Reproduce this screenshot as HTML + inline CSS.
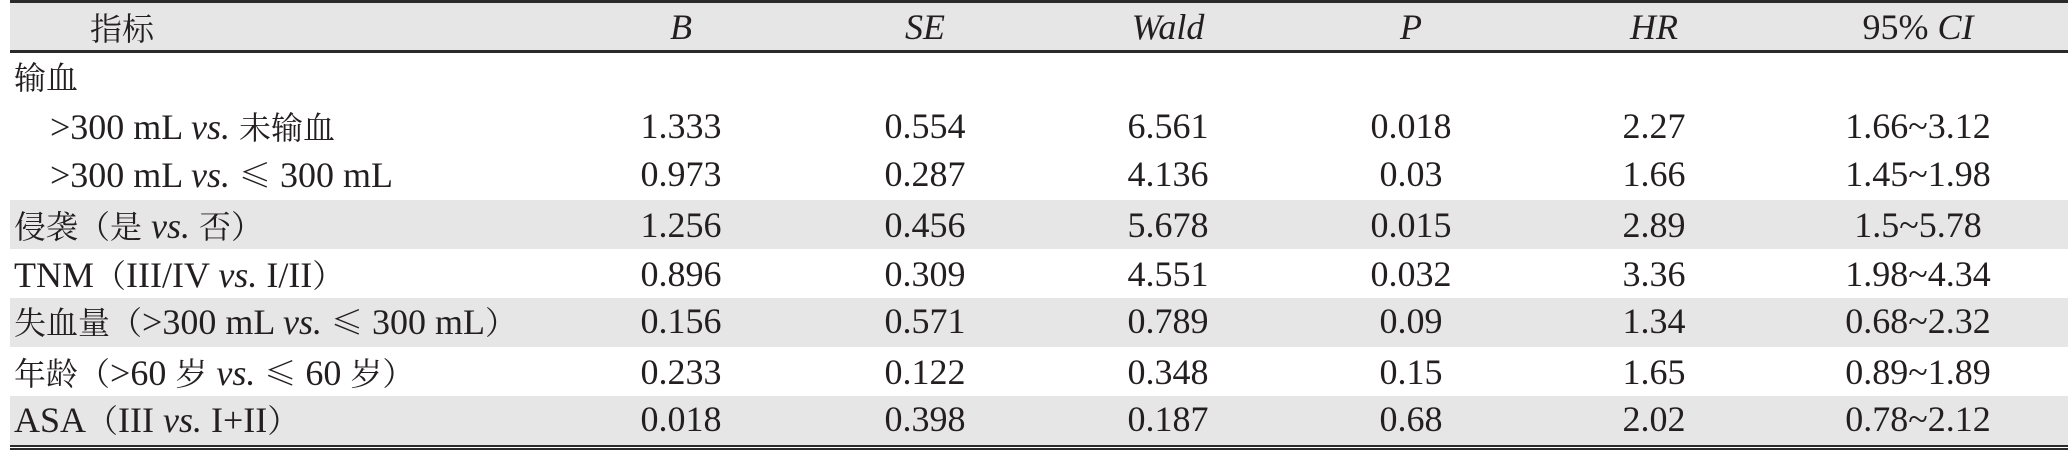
<!DOCTYPE html>
<html><head><meta charset="utf-8"><style>
body{margin:0;width:2071px;height:455px;background:#fff;overflow:hidden;position:relative;font-family:"Liberation Serif","Noto Serif CJK SC",serif;color:#231f20}
.band{position:absolute;left:10px;width:2058px;background:#e6e6e6}
.rule{position:absolute;left:10px;width:2058px;background:#2a2a2a}
.c{position:absolute;font-size:36px;line-height:40px;white-space:nowrap;transform:translateX(-50%)}
.l{position:absolute;font-size:36px;line-height:40px;white-space:nowrap}
i{font-style:italic}
.z{font-family:"Noto Serif CJK SC",serif;font-size:32px}
</style></head><body>
<div class="band" style="top:3px;height:48px"></div>
<div class="band" style="top:200px;height:49px"></div>
<div class="band" style="top:298px;height:49px"></div>
<div class="band" style="top:396px;height:49px"></div>
<div class="rule" style="top:0;height:3px"></div>
<div class="rule" style="top:50px;height:3px"></div>
<div class="rule" style="top:445px;height:2px"></div>
<div class="rule" style="top:448px;height:2px"></div>

<div class="l" style="left:90px;top:7px"><span class="z">指标</span></div>
<div class="c" style="left:681px;top:7px"><i>B</i></div>
<div class="c" style="left:925px;top:7px"><i>SE</i></div>
<div class="c" style="left:1168px;top:7px"><i>Wald</i></div>
<div class="c" style="left:1411px;top:7px"><i>P</i></div>
<div class="c" style="left:1654px;top:7px"><i>HR</i></div>
<div class="c" style="left:1918px;top:7px">95% <i>CI</i></div>

<script>
const labels=['<span class="z">输血</span>','>300 mL <i>vs.</i> <span class="z">未输血</span>','>300 mL <i>vs.</i> <span class="z">≤</span> 300 mL','<span class="z">侵袭（是</span> <i>vs.</i> <span class="z">否）</span>','TNM<span class="z">（</span>III/IV <i>vs.</i> I/II<span class="z">）</span>','<span class="z">失血量（</span>>300 mL <i>vs.</i> <span class="z">≤</span> 300 mL<span class="z">）</span>','<span class="z">年龄（</span>>60 <span class="z">岁</span> <i>vs.</i> <span class="z">≤</span> 60 <span class="z">岁）</span>','ASA<span class="z">（</span>III <i>vs.</i> I+II<span class="z">）</span>'];
const indent=[0,1,1,0,0,0,0,0];
const colB=["","1.333","0.973","1.256","0.896","0.156","0.233","0.018"];
const colSE=["","0.554","0.287","0.456","0.309","0.571","0.122","0.398"];
const colWald=["","6.561","4.136","5.678","4.551","0.789","0.348","0.187"];
const colP=["","0.018","0.03","0.015","0.032","0.09","0.15","0.68"];
const colHR=["","2.27","1.66","2.89","3.36","1.34","1.65","2.02"];
const colCI=["","1.66~3.12","1.45~1.98","1.5~5.78","1.98~4.34","0.68~2.32","0.89~1.89","0.78~2.12"];
const cols=[[colB,681,"b"],[colSE,925,"se"],[colWald,1168,"wald"],[colP,1411,"p"],[colHR,1654,"hr"],[colCI,1918,"ci"]];
const centers=[77,127,175,226,275,322,373,420];
const root=document.body;
labels.forEach((lab,r)=>{
  const d=document.createElement('div');
  d.className='l';
  
  
  d.style.left=(indent[r]?50:14)+'px';
  d.style.top=(centers[r]-21)+'px';
  d.innerHTML=lab;
  root.appendChild(d);
  cols.forEach(([arr,x,n])=>{
    if(!arr[r])return;
    const c=document.createElement('div');
    c.className='c';
    
    
    c.style.left=x+'px';
    c.style.top=(centers[r]-21)+'px';
    c.textContent=arr[r];
    root.appendChild(c);
  });
});
</script>
</body></html>
